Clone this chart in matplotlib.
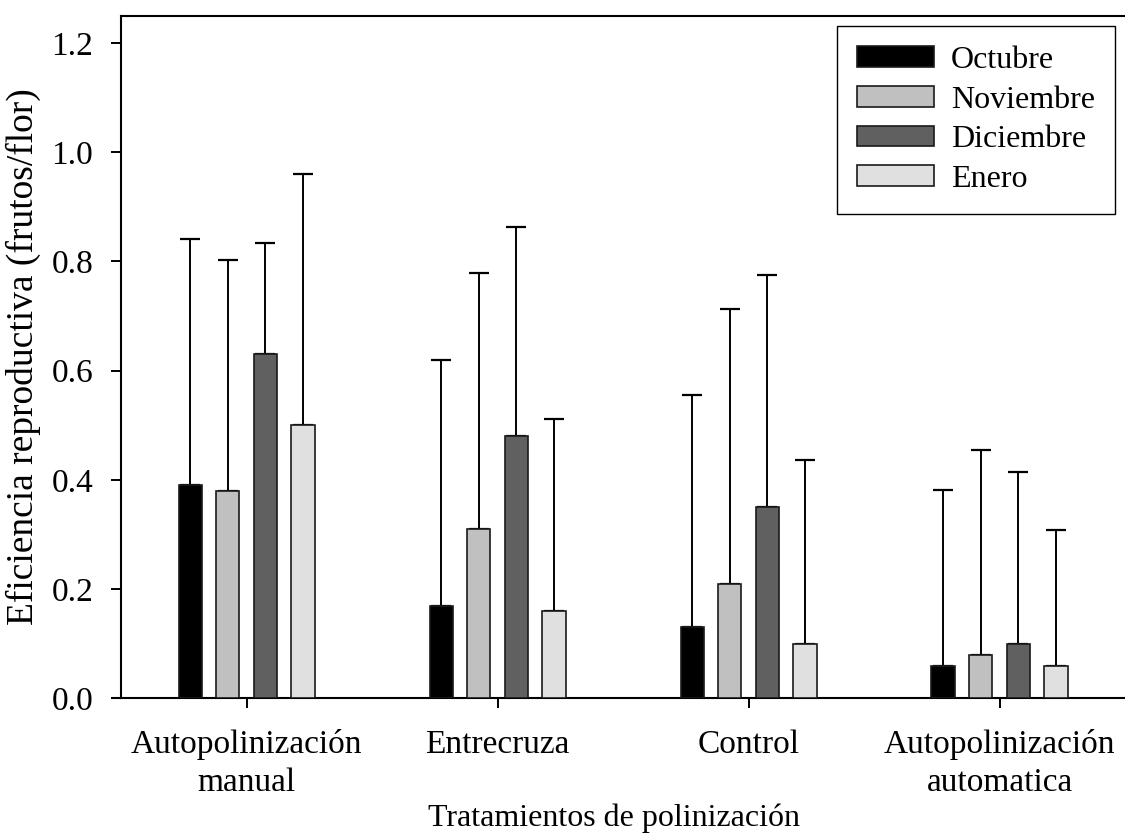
import matplotlib
matplotlib.use("Agg")
import matplotlib.pyplot as plt
import numpy as np

categories = ["Autopolinización\nmanual", "Entrecruza", "Control", "Autopolinización\nautomatica"]
months = ["Octubre", "Noviembre", "Diciembre", "Enero"]
means = {
    "Octubre":   [0.39, 0.17, 0.13, 0.06],
    "Noviembre": [0.38, 0.31, 0.21, 0.08],
    "Diciembre": [0.63, 0.48, 0.35, 0.10],
    "Enero":     [0.50, 0.16, 0.10, 0.06],
}
upper = {  # top of the error bars
    "Octubre":   [0.841, 0.619, 0.555, 0.381],
    "Noviembre": [0.802, 0.779, 0.713, 0.455],
    "Diciembre": [0.834, 0.863, 0.776, 0.414],
    "Enero":     [0.960, 0.512, 0.436, 0.308],
}
colors = ["#000000", "#c0c0c0", "#606060", "#e0e0e0"]

plt.rcParams['font.family'] = ['Liberation Serif', 'DejaVu Serif']

fig = plt.figure(figsize=(11.25, 8.39), dpi=100)
ax = fig.add_axes([0.1076, 0.1675, 0.8924, 0.8138])

x = np.arange(len(categories))
offsets = [-0.225, -0.075, 0.075, 0.225]
width = 0.092
for m, off, c in zip(months, offsets, colors):
    vals = np.array(means[m])
    err = np.array(upper[m]) - vals
    ax.bar(x + off, vals, width, color=c, edgecolor="#1a1a1a", linewidth=1.2,
           label=m, zorder=3)
    ax.errorbar(x + off, vals, yerr=[np.zeros_like(err), err], fmt="none",
                ecolor="black", elinewidth=1.4, capsize=7.2, capthick=1.6, zorder=2)

ax.set_xlim(-0.5, 3.5)
ax.set_ylim(0, 1.25)
ax.set_yticks([0.0, 0.2, 0.4, 0.6, 0.8, 1.0, 1.2])
ax.set_yticklabels(["0.0", "0.2", "0.4", "0.6", "0.8", "1.0", "1.2"])
ax.set_xticks(x)
ax.set_xticklabels(categories, linespacing=1.32)
ax.tick_params(axis="both", labelsize=24, length=7, width=1.4, direction="out")
ax.tick_params(axis="x", pad=15)
ax.tick_params(axis="y", pad=13)

for s in ["left", "bottom", "top"]:
    ax.spines[s].set_linewidth(1.5)
ax.spines["right"].set_visible(False)
ax.plot([-0.0100, 0], [0, 0], transform=ax.transAxes, color="black",
        linewidth=1.5, clip_on=False, solid_capstyle="butt")

ax.set_ylabel("Eficiencia reproductiva (frutos/flor)", fontsize=27)
ax.yaxis.set_label_coords(-0.080, 0.5)
ax.set_xlabel("Tratamientos de polinización", fontsize=23)
ax.xaxis.set_label_coords(0.4915, -0.154)

leg = ax.legend(loc="upper right", bbox_to_anchor=(0.990, 0.9845), fontsize=23,
                frameon=True, fancybox=False, edgecolor="black", framealpha=1,
                handlelength=2.4, handleheight=0.62, handletextpad=0.55,
                labelspacing=0.33, borderpad=0.62, borderaxespad=0)
leg.get_frame().set_linewidth(1.0)

fig.savefig("out.png", dpi=100)
